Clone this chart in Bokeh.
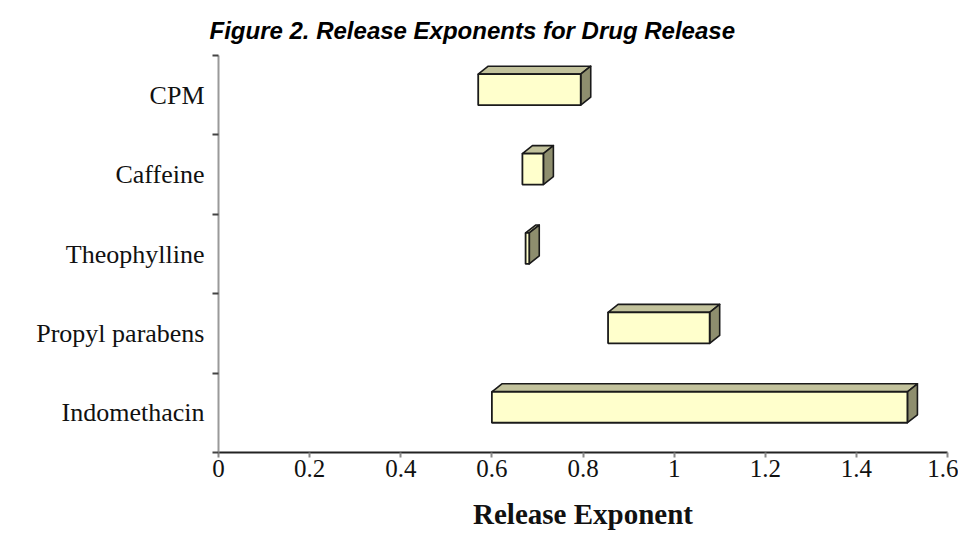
from bokeh.plotting import figure
from bokeh.models import FixedTicker
from bokeh.embed import file_html
from bokeh.resources import INLINE

# ---- data ----
categories = ["Indomethacin", "Propyl parabens", "Theophylline", "Caffeine", "CPM"]  # bottom -> top
low_values = [0.60, 0.855, 0.674, 0.667, 0.570]
high_values = [1.512, 1.078, 0.682, 0.713, 0.795]
x_ticks = [0, 0.2, 0.4, 0.6, 0.8, 1.0, 1.2, 1.4, 1.6]
x_tick_labels = ["0", "0.2", "0.4", "0.6", "0.8", "1", "1.2", "1.4", "1.6"]
title_text = "Figure 2. Release Exponents for Drug Release"
x_label = "Release Exponent"

# ---- style ----
BAR_H = 0.39      # front face height (category units)
BAR_OFF = 0.07    # front face shifted up from band centre
DX = 0.022        # depth in x (data units)
DY = 0.10         # depth in y (category units)
FRONT = "#FFFFCC"
TOP = "#C2C29C"
SIDE = "#8E8E6E"
EDGE = "#1a1a1a"
SERIF = "Liberation Serif"

p = figure(width=958, height=541, x_range=(0, 1.6), y_range=(0, 5),
           output_backend="svg", toolbar_location=None,
           min_border_left=218, min_border_right=11,
           min_border_top=55, min_border_bottom=89)
p.outline_line_color = None
p.xgrid.visible = False
p.ygrid.visible = False
p.background_fill_color = "white"
p.border_fill_color = "white"

centers = [i + 0.5 for i in range(len(categories))]
left, right, bottom, top = [], [], [], []
top_xs, top_ys, side_xs, side_ys = [], [], [], []
for c, lo, hi in zip(centers, low_values, high_values):
    b = c - BAR_H / 2 + BAR_OFF
    t = c + BAR_H / 2 + BAR_OFF
    left.append(lo); right.append(hi); bottom.append(b); top.append(t)
    top_xs.append([lo, lo + DX, hi + DX, hi])
    top_ys.append([t, t + DY, t + DY, t])
    side_xs.append([hi, hi, hi + DX, hi + DX])
    side_ys.append([b, t, t + DY, b + DY])

p.patches(top_xs, top_ys, fill_color=TOP, line_color=EDGE, line_width=1.6, line_join="round")
p.patches(side_xs, side_ys, fill_color=SIDE, line_color=EDGE, line_width=1.6, line_join="round")
p.quad(left=left, right=right, bottom=bottom, top=top,
       fill_color=FRONT, line_color=EDGE, line_width=1.8)

# ---- x axis ----
xa = p.xaxis[0]
xa.ticker = FixedTicker(ticks=x_ticks)
xa.major_label_overrides = {t: l for t, l in zip(x_ticks, x_tick_labels)}
xa.axis_line_color = "#222222"
xa.axis_line_width = 2
xa.major_tick_line_color = "#8a8a8a"
xa.major_tick_line_width = 2
xa.major_tick_in = 0
xa.major_tick_out = 5
xa.minor_tick_line_color = None
xa.major_label_text_font = SERIF
xa.major_label_text_font_size = "25px"
xa.major_label_text_color = "#111111"
xa.major_label_standoff = 2
xa.axis_label = x_label
xa.axis_label_text_font = SERIF
xa.axis_label_text_font_style = "bold"
xa.axis_label_text_font_size = "29px"
xa.axis_label_text_color = "#111111"
xa.axis_label_standoff = 18

# ---- y axis ----
ya = p.yaxis[0]
ya.ticker = FixedTicker(ticks=centers, minor_ticks=[0, 1, 2, 3, 4, 5])
ya.major_label_overrides = {c: n for c, n in zip(centers, categories)}
ya.axis_line_color = "#9a9a9a"
ya.axis_line_width = 2
ya.major_tick_line_color = None
ya.major_tick_in = 0
ya.major_tick_out = 0
ya.minor_tick_line_color = "#444444"
ya.minor_tick_line_width = 2
ya.minor_tick_in = 0
ya.minor_tick_out = 6
ya.major_label_text_font = SERIF
ya.major_label_text_font_size = "26px"
ya.major_label_text_color = "#111111"
ya.major_label_standoff = 8

# ---- title ----
p.title.text = title_text
p.title.text_font = "Liberation Sans"
p.title.text_font_style = "bold italic"
p.title.text_font_size = "24px"
p.title.text_color = "#000000"
p.title.align = "left"
p.title.offset = -9
p.title.standoff = 23

open("out.html", "w").write(file_html(p, INLINE))
